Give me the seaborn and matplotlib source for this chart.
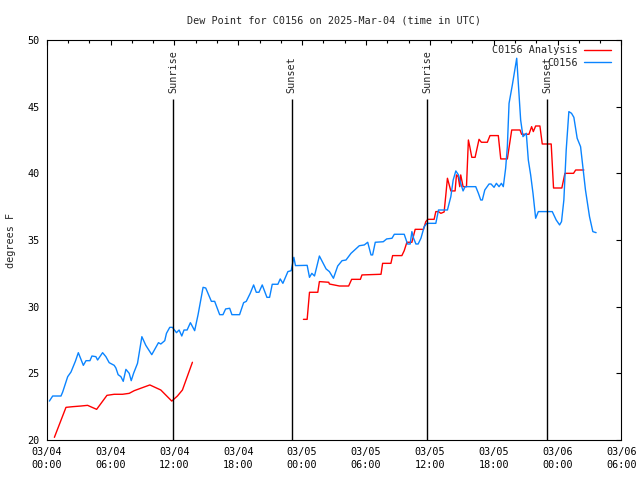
import matplotlib
matplotlib.use("Agg")
import matplotlib.pyplot as plt
import matplotlib.dates as mdates
import seaborn as sns
import pandas as pd
import numpy as np

# ---- data (hours since 2025-03-04 00:00 UTC) ----
blue_hours = [0.25, 0.56, 1.34, 1.5, 1.97, 2.28, 2.69, 2.97, 3.44, 3.69, 4.06, 4.25, 4.62, 4.78,
              5.25, 5.56, 5.87, 6.34, 6.5, 6.71, 6.97, 7.19, 7.44, 7.75, 7.94, 8.16, 8.53, 8.94,
              9.31, 9.87, 10.5, 10.72, 11.09, 11.25, 11.56, 11.81, 12.19, 12.44, 12.69, 12.9,
              13.19, 13.5, 13.9, 14.22, 14.69, 14.94, 15.47, 15.78, 16.25, 16.56, 16.81, 17.19,
              17.4, 18.12, 18.5, 18.75, 19.12, 19.44, 19.69, 19.94, 20.25, 20.69, 20.94, 21.19,
              21.72, 21.94, 22.19, 22.66, 22.97, 23.22, 23.37, 24.47, 24.69, 24.91, 25.16, 25.62,
              26.25, 26.56, 26.94, 27.34, 27.75, 28.12, 28.59, 29.0, 29.37, 29.84, 30.16, 30.47,
              30.62, 30.87, 31.62, 31.94, 32.44, 32.66, 33.59, 33.9, 34.15, 34.31, 34.47, 34.69,
              34.9, 35.16, 35.47, 35.72, 36.56, 36.81, 37.65, 37.97, 38.19, 38.44, 38.69, 38.9,
              39.12, 39.31, 40.31, 40.56, 40.78, 40.93, 41.16, 41.56, 41.75, 42.03, 42.25, 42.5,
              42.72, 42.9, 43.12, 43.28, 43.44, 43.75, 44.0, 44.16, 44.31, 44.53, 44.75, 45.06,
              45.25, 45.47, 45.69, 45.94, 46.19, 47.5, 47.87, 48.19, 48.37, 48.59, 48.81, 49.06,
              49.31, 49.53, 49.84, 50.16, 50.37, 50.62, 51.0, 51.31, 51.62]
blue_values = [22.92, 23.3, 23.3, 23.6, 24.75, 25.1, 25.9, 26.55, 25.6, 25.95, 25.95, 26.3, 26.25, 26.0,
               26.55, 26.25, 25.8, 25.6, 25.4, 24.9, 24.75, 24.4, 25.3, 25.0, 24.45, 25.0, 25.75, 27.75,
               27.1, 26.4, 27.3, 27.2, 27.45, 28.0, 28.45, 28.45, 28.05, 28.25, 27.8, 28.25,
               28.25, 28.8, 28.2, 29.4, 31.45, 31.4, 30.4, 30.4, 29.4, 29.4, 29.83, 29.88,
               29.4, 29.4, 30.3, 30.4, 31.0, 31.63, 31.08, 31.08, 31.63, 30.7, 30.7, 31.68,
               31.68, 32.08, 31.75, 32.63, 32.7, 33.7, 33.08, 33.1, 32.2, 32.5, 32.3, 33.8,
               32.83, 32.63, 32.13, 33.05, 33.45, 33.5, 34.0, 34.3, 34.57, 34.63, 34.83, 33.88,
               33.88, 34.83, 34.87, 35.08, 35.13, 35.43, 35.43, 34.7, 34.7, 35.63, 35.13, 34.7,
               34.7, 35.13, 36.0, 36.25, 36.25, 37.25, 37.25, 38.25, 39.5, 40.18, 39.88, 39.25,
               38.68, 39.0, 39.0, 38.5, 38.0, 38.0, 38.75, 39.2, 39.2, 38.95, 39.25, 39.0,
               39.25, 39.0, 40.38, 42.0, 45.25, 46.63, 47.88, 48.63, 46.75, 44.0, 42.75, 43.0,
               41.0, 39.88, 38.5, 36.63, 37.13, 37.13, 36.5, 36.13, 36.38, 38.0, 41.75, 44.63,
               44.5, 44.2, 42.63, 42.0, 40.5, 38.75, 36.75, 35.63, 35.55]

red1_hours = [0.72, 1.81, 2.44, 3.22, 3.84, 4.69, 5.66, 6.34, 7.12, 7.75, 8.22, 9.0, 9.69, 10.72,
              11.75, 12.28, 12.75, 13.69]
red1_values = [20.2, 22.45, 22.5, 22.55, 22.6, 22.3, 23.35, 23.43, 23.43, 23.5, 23.7, 23.93, 24.13, 23.75,
               22.92, 23.3, 23.75, 25.83]

red2_hours = [24.12, 24.47, 24.69, 25.47, 25.62, 26.5, 26.56, 27.5, 28.37, 28.65, 29.47, 29.62, 31.41,
              31.56, 32.34, 32.5, 33.37, 33.59, 33.84, 34.31, 34.62, 35.4, 35.62, 35.81, 36.4, 36.56,
              36.81, 37.03, 37.34, 37.5, 37.65, 37.97, 38.37, 38.5, 38.66, 38.81, 38.9, 39.12, 39.44,
              39.62, 39.75, 39.94, 40.25, 40.62, 40.84, 41.4, 41.65, 42.43, 42.66, 43.28, 43.69, 44.47,
              44.62, 45.31, 45.56, 45.72, 45.94, 46.34, 46.56, 47.4, 47.62, 48.4, 48.69, 49.5, 49.7, 50.47]
red2_values = [29.05, 29.05, 31.08, 31.08, 31.88, 31.83, 31.7, 31.55, 31.55, 32.05, 32.05, 32.38, 32.43,
               33.25, 33.25, 33.83, 33.83, 34.2, 34.83, 34.83, 35.8, 35.8, 36.38, 36.55, 36.55, 37.13,
               37.13, 37.0, 37.1, 38.38, 39.63, 38.68, 38.68, 39.88, 39.75, 39.0, 39.88, 39.0, 39.0,
               42.5, 42.0, 41.2, 41.2, 42.55, 42.33, 42.33, 42.83, 42.83, 41.08, 41.08, 43.25, 43.25,
               42.93, 42.93, 43.5, 43.13, 43.55, 43.55, 42.2, 42.2, 38.9, 38.9, 40.0, 40.0, 40.25, 40.25]

event_hours = [11.87, 23.03, 35.77, 47.0]
event_labels = ["Sunrise", "Sunset", "Sunrise", "Sunset"]

series_names = ["C0156 Analysis", "C0156"]
title = "Dew Point for C0156 on 2025-Mar-04 (time in UTC)"
y_label = "degrees F"

start = pd.Timestamp("2025-03-04 00:00")
def to_time(h):
    return start + pd.to_timedelta(np.array(h), unit="h")

blue_df = pd.DataFrame({"time": to_time(blue_hours), "value": blue_values})
red1_df = pd.DataFrame({"time": to_time(red1_hours), "value": red1_values})
red2_df = pd.DataFrame({"time": to_time(red2_hours), "value": red2_values})

sns.set_theme(style="white")
plt.rcParams["font.family"] = ["DejaVu Sans Mono"]
plt.rcParams["font.size"] = 7.3

fig = plt.figure(figsize=(6.4, 4.8), dpi=100)
ax = fig.add_axes([0.073, 0.0833, 0.898, 0.8334])

red = "#ff0000"
blue = "#0a84ff"
sns.lineplot(data=red1_df, x="time", y="value", ax=ax, color=red, lw=1.0, label=series_names[0])
sns.lineplot(data=red2_df, x="time", y="value", ax=ax, color=red, lw=1.0)
sns.lineplot(data=blue_df, x="time", y="value", ax=ax, color=blue, lw=1.0, label=series_names[1])

for h, lab in zip(event_hours, event_labels):
    t = to_time([h])[0]
    ax.vlines(t, 20, 45.6, color="black", lw=1.0)
    ax.text(t, 46.05, lab, rotation=90, ha="center", va="bottom", fontsize=7.3)

ax.set_xlim(start, start + pd.Timedelta(hours=54))
ax.set_ylim(20, 50)
ax.set_yticks(np.arange(20, 51, 5))
ax.xaxis.set_major_locator(mdates.HourLocator(byhour=[0, 6, 12, 18]))
ax.xaxis.set_minor_locator(mdates.HourLocator(byhour=range(0, 24, 2)))
ax.xaxis.set_major_formatter(mdates.DateFormatter("%m/%d\n%H:%M"))
ax.tick_params(which="both", direction="in", top=True, right=True, colors="black",
               labelsize=7.3, width=0.8)
ax.tick_params(which="major", length=3.5, pad=5)
ax.tick_params(which="minor", length=1.8)
for lab in ax.get_xticklabels():
    lab.set_linespacing(1.35)
for s in ax.spines.values():
    s.set_color("black")
    s.set_linewidth(0.8)

ax.set_xlabel("")
ax.set_ylabel(y_label, fontsize=7.3, labelpad=8)
ax.set_title(title, fontsize=7.3, pad=12)

ax.legend(loc="upper right", bbox_to_anchor=(0.995, 1.005), frameon=False, markerfirst=False,
          handlelength=2.7, handletextpad=0.6, labelspacing=0.25, fontsize=7.3, borderaxespad=0.3)

fig.savefig("out.png", dpi=100)
